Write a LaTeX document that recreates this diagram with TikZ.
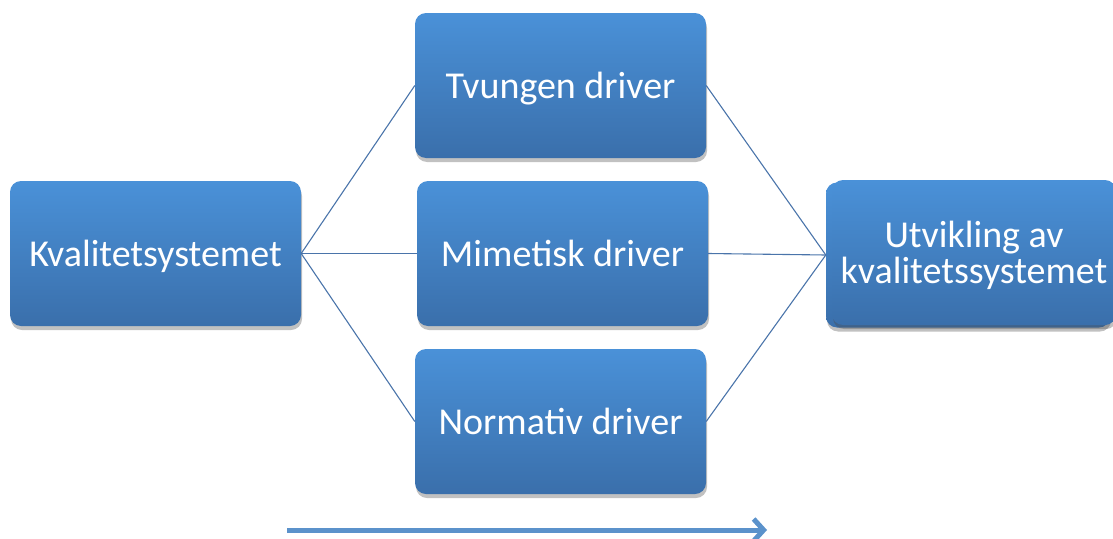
\documentclass[tikz,border=0pt]{standalone}
\usepackage{fontspec}
\setmainfont{Carlito}
\usetikzlibrary{shadows,arrows.meta}
\definecolor{boxtop}{HTML}{4A91D8}
\definecolor{boxbot}{HTML}{3A6FAB}
\definecolor{linec}{HTML}{4A74AA}
\definecolor{arrowc}{HTML}{5B92CB}
\tikzset{
  box/.style={rounded corners=11pt, minimum width=291pt, minimum height=145pt,
    top color=boxtop, bottom color=boxbot, draw=none, text=white,
    font=\fontsize{38}{36}\selectfont, align=center, inner sep=2pt, text depth=0pt,
    drop shadow={shadow xshift=1pt, shadow yshift=-4pt, opacity=0.35, fill=black!70}},
  conn/.style={draw=linec, line width=1.1pt},
}
\begin{document}
\begin{tikzpicture}[x=1pt,y=-1pt]
\useasboundingbox (0,0) rectangle (1113,538);
\node[box] (kv) at (155.5,253.5) {Kvalitetsystemet};
\node[box] (tv) at (560.5,85.5) {Tvungen driver};
\node[box] (mi) at (562.5,253.5) {Mimetisk driver};
\node[box] (no) at (560.5,421.5) {Normativ driver};
\node[box, minimum width=284pt] (utback) at (968,255) {};
\node[box, minimum width=284pt, drop shadow={opacity=0}] (ut) at (974,252.5) {Utvikling av\\kvalitetssystemet};
\draw[conn] (kv.east) -- (tv.west);
\draw[conn] (kv.east) -- (mi.west);
\draw[conn] (kv.east) -- (no.west);
\draw[conn] (tv.east) -- (utback.west);
\draw[conn] (mi.east) -- (utback.west);
\draw[conn] (no.east) -- (utback.west);
\coordinate (a1) at (287,530);
\coordinate (a2) at (767,530);
\draw[draw=arrowc, line width=5pt, -{Straight Barb[length=10pt,width=22pt,line width=5pt]}] (a1) -- (a2);
\end{tikzpicture}
\end{document}
